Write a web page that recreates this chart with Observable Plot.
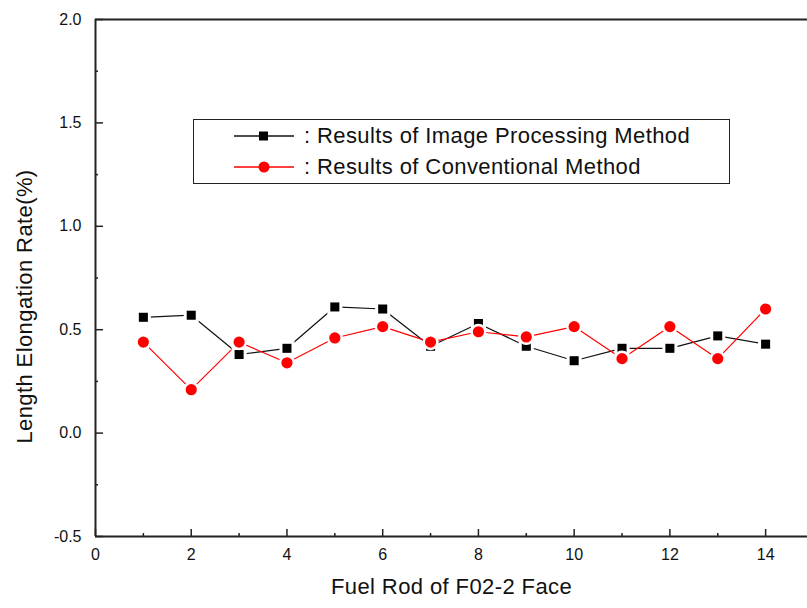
<!DOCTYPE html>
<html><head><meta charset="utf-8">
<script src="https://cdn.jsdelivr.net/npm/d3@7"></script>
<script src="https://cdn.jsdelivr.net/npm/@observablehq/plot@0.6"></script>
<style>
html,body{margin:0;padding:0;background:#fff;overflow:hidden;}
#wrap{position:relative;width:807px;height:608px;font-family:"Liberation Sans",Arial,sans-serif;}
#legend{position:absolute;left:193px;top:119px;width:535px;height:63px;border:1.5px solid #222;background:#fff;}
.row{position:absolute;left:38px;height:26px;display:flex;align-items:center;font-size:22px;color:#111;letter-spacing:0.4px;white-space:nowrap;}
.row svg{margin-right:10px;}
</style></head>
<body><div id="wrap"><div id="chart"></div>
<div id="legend">
<div class="row" style="top:3px"><svg width="62" height="20"><line x1="2" x2="62" y1="10" y2="10" stroke="#111" stroke-width="1.3"/><rect x="27" y="5.5" width="9" height="9" fill="#000"/></svg><span>: Results of Image Processing Method</span></div>
<div class="row" style="top:34px"><svg width="62" height="20"><line x1="2" x2="62" y1="10" y2="10" stroke="red" stroke-width="1.3"/><circle cx="32" cy="10" r="5.5" fill="red"/></svg><span>: Results of Conventional Method</span></div>
</div></div>
<script>
const rods = [1,2,3,4,5,6,7,8,9,10,11,12,13,14];
const imageProcessing = [0.56,0.57,0.38,0.41,0.61,0.60,0.42,0.53,0.42,0.35,0.41,0.41,0.47,0.43];
const conventional   = [0.44,0.21,0.44,0.34,0.46,0.515,0.44,0.49,0.465,0.515,0.36,0.515,0.36,0.60];
const xMajor = [0,2,4,6,8,10,12,14];
const xMinor = [1,3,5,7,9,11,13];
const yMajor = [-0.5,0,0.5,1.0,1.5,2.0];
const yMinor = [-0.25,0.25,0.75,1.25,1.75];
const xTitle = "Fuel Rod of F02-2 Face";
const yTitle = "Length Elongation Rate(%)";

const dataA = rods.map((r,i)=>({rod:r, v:imageProcessing[i]}));
const dataB = rods.map((r,i)=>({rod:r, v:conventional[i]}));

const W = 807, H = 608, mL = 95, mT = 19, mB = 72, mR = 0;
const plotW = W - mL - mR, plotH = H - mT - mB;
const font = '"Liberation Sans", Arial, sans-serif';

const chart = Plot.plot({
  width: W, height: H,
  marginLeft: mL, marginTop: mT, marginBottom: mB, marginRight: mR,
  style: {fontFamily: font, fontSize: "16px", color: "#111", background: "#fff"},
  x: {domain: [0, 14.875], label: null},
  y: {domain: [-0.5, 2.0], label: null},
  marks: [
    Plot.ruleX([0], {stroke: "#222", strokeWidth: 2}),
    Plot.ruleY([-0.5], {stroke: "#222", strokeWidth: 2}),
    Plot.ruleY([2.0], {stroke: "#222", strokeWidth: 2}),
    Plot.tickX(xMajor, {x: d => d, insetTop: plotH - 7, stroke: "#222", strokeWidth: 1.5}),
    Plot.tickX(xMinor, {x: d => d, insetTop: plotH - 3, stroke: "#222", strokeWidth: 1.5}),
    Plot.tickY(yMajor, {y: d => d, insetRight: plotW - 8, stroke: "#222", strokeWidth: 1.5}),
    Plot.tickY(yMinor, {y: d => d, insetRight: plotW - 3, stroke: "#222", strokeWidth: 1.5}),
    Plot.axisX({ticks: xMajor, tickSize: 0, tickPadding: 12, tickFormat: d => String(d), fontSize: 16}),
    Plot.axisY({ticks: yMajor, tickSize: 0, tickPadding: 14, tickFormat: d => d.toFixed(1), fontSize: 16}),
    Plot.line(dataA, {x: "rod", y: "v", stroke: "#111", strokeWidth: 1.2}),
    Plot.line(dataB, {x: "rod", y: "v", stroke: "red", strokeWidth: 1.2}),
    Plot.dot(dataA, {x: "rod", y: "v", symbol: "square", r: 5.1, fill: "#000", stroke: "#fff", strokeWidth: 6, paintOrder: "stroke"}),
    Plot.dot(dataB, {x: "rod", y: "v", symbol: "circle", r: 5.6, fill: "red", stroke: "#fff", strokeWidth: 5, paintOrder: "stroke"}),
    Plot.text([xTitle], {frameAnchor: "bottom", dy: 57, text: d => d, fontSize: 22, fill: "#111"}),
    Plot.text([yTitle], {frameAnchor: "left", textAnchor: "middle", dx: -71, dy: 28.5, rotate: -90, text: d => d, fontSize: 22, fill: "#111"})
  ]
});
d3.select(chart).selectAll("text").filter(function(){ const t = this.textContent; return t === xTitle || t === yTitle; }).attr("letter-spacing", "0.4px");
document.getElementById("chart").appendChild(chart);
</script>
</body></html>
